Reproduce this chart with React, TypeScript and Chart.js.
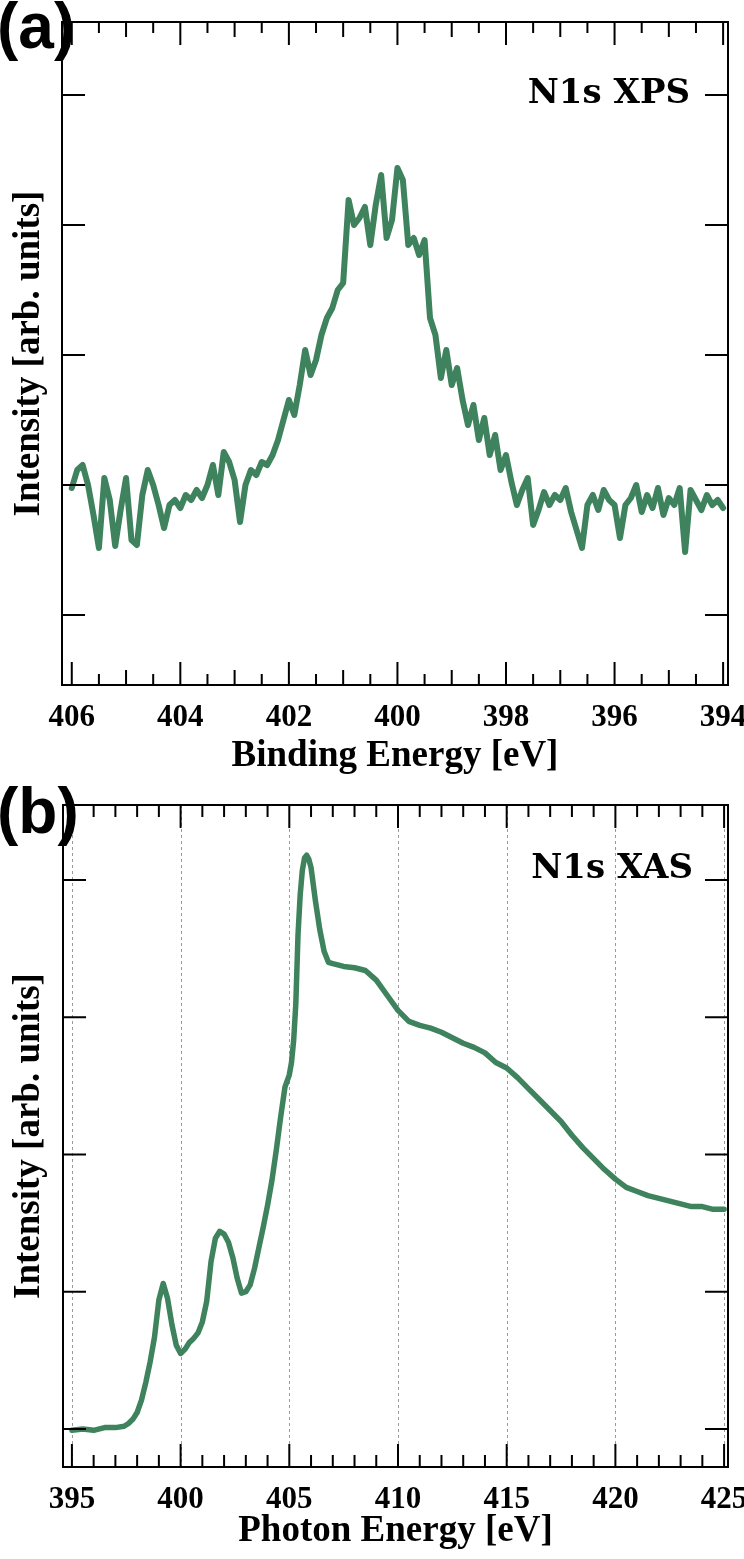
import React, { useEffect, useRef } from "react";
import { Chart, registerables } from "chart.js";

Chart.register(...registerables);

// ---------------- Panel (a): N1s XPS ----------------
const xpsEnergy = [
  406.0, 405.9, 405.8, 405.7, 405.6, 405.5, 405.4, 405.3, 405.2, 405.1,
  405.0, 404.9, 404.8, 404.7, 404.6, 404.5, 404.4, 404.3, 404.2, 404.1,
  404.0, 403.9, 403.8, 403.7, 403.6, 403.5, 403.4, 403.3, 403.2, 403.1,
  403.0, 402.9, 402.8, 402.7, 402.6, 402.5, 402.4, 402.3, 402.2, 402.1,
  402.0, 401.9, 401.8, 401.7, 401.6, 401.5, 401.4, 401.3, 401.2, 401.1,
  401.0, 400.9, 400.8, 400.7, 400.6, 400.5, 400.4, 400.3, 400.2, 400.1,
  400.0, 399.9, 399.8, 399.7, 399.6, 399.5, 399.4, 399.3, 399.2, 399.1,
  399.0, 398.9, 398.8, 398.7, 398.6, 398.5, 398.4, 398.3, 398.2, 398.1,
  398.0, 397.9, 397.8, 397.7, 397.6, 397.5, 397.4, 397.3, 397.2, 397.1,
  397.0, 396.9, 396.8, 396.7, 396.6, 396.5, 396.4, 396.3, 396.2, 396.1,
  396.0, 395.9, 395.8, 395.7, 395.6, 395.5, 395.4, 395.3, 395.2, 395.1,
  395.0, 394.9, 394.8, 394.7, 394.6, 394.5, 394.4, 394.3, 394.2, 394.1,
  394.0,
];
const xpsIntensity = [
  2570, 2750, 2800, 2600, 2300, 1970, 2670, 2450, 1990, 2350,
  2670, 2050, 2000, 2500, 2750, 2600, 2400, 2170, 2400, 2450,
  2370, 2500, 2450, 2550, 2470, 2600, 2800, 2500, 2930, 2830,
  2650, 2230, 2600, 2750, 2700, 2830, 2800, 2900, 3050, 3250,
  3450, 3300, 3600, 3950, 3700, 3850, 4100, 4270, 4370, 4550,
  4620, 5450, 5200, 5270, 5380, 5000, 5400, 5700, 5070, 5250,
  5770, 5650, 5000, 5070, 4900, 5050, 4270, 4100, 3670, 3950,
  3600, 3770, 3450, 3200, 3400, 3050, 3270, 2900, 3100, 2750,
  2900, 2630, 2400, 2550, 2670, 2200, 2350, 2530, 2400, 2500,
  2450, 2570, 2330, 2150, 1970, 2400, 2500, 2350, 2550, 2450,
  2400, 2070, 2400, 2470, 2600, 2330, 2500, 2370, 2570, 2300,
  2470, 2400, 2570, 1930, 2550, 2450, 2350, 2500, 2400, 2450,
  2370,
];
const xpsTickLabels = [406, 404, 402, 400, 398, 396, 394];
const xpsMidTicks = [405, 403, 401, 399, 397, 395];
const xpsMinorTicks = [405.5, 404.5, 403.5, 402.5, 401.5, 400.5, 399.5, 398.5, 397.5, 396.5, 395.5, 394.5];
const xpsYTicks = [1300, 2600, 3900, 5200, 6500];

// ---------------- Panel (b): N1s XAS ----------------
const xasEnergy = [
  395.0, 395.5, 396.0, 396.5, 397.0, 397.4, 397.6, 397.8, 398.0, 398.2,
  398.4, 398.6, 398.8, 399.0, 399.2, 399.4, 399.6, 399.8, 400.0, 400.2,
  400.4, 400.6, 400.8, 401.0, 401.2, 401.4, 401.6, 401.8, 402.0, 402.2,
  402.4, 402.6, 402.8, 403.0, 403.2, 403.4, 403.6, 403.8, 404.0, 404.2,
  404.4, 404.6, 404.8, 405.0, 405.1, 405.2, 405.3, 405.4, 405.5, 405.6,
  405.7, 405.8, 405.9, 406.0, 406.2, 406.4, 406.6, 406.8, 407.0, 407.5,
  408.0, 408.5, 409.0, 409.5, 410.0, 410.5, 411.0, 411.5, 412.0, 412.5,
  413.0, 413.5, 414.0, 414.5, 415.0, 415.5, 416.0, 416.5, 417.0, 417.5,
  418.0, 418.5, 419.0, 419.5, 420.0, 420.5, 421.0, 421.5, 422.0, 422.5,
  423.0, 423.5, 424.0, 424.5, 425.0,
];
const xasIntensity = [
  0.99, 1.0, 0.99, 1.01, 1.01, 1.02, 1.04, 1.07, 1.12, 1.21,
  1.34, 1.49, 1.67, 1.94, 2.06, 1.95, 1.76, 1.61, 1.55, 1.58,
  1.63, 1.66, 1.7, 1.78, 1.93, 2.22, 2.39, 2.44, 2.42, 2.36,
  2.25, 2.1, 1.99, 2.0, 2.05, 2.17, 2.32, 2.47, 2.63, 2.81,
  3.03, 3.27, 3.49, 3.58, 3.67, 3.83, 4.1, 4.6, 4.89, 5.07,
  5.16, 5.18, 5.15, 5.09, 4.85, 4.64, 4.48, 4.4, 4.39, 4.37,
  4.36, 4.34, 4.27, 4.16, 4.05, 3.97, 3.94, 3.92, 3.89, 3.85,
  3.81, 3.78, 3.74, 3.67, 3.63, 3.56, 3.48, 3.4, 3.32, 3.24,
  3.14, 3.05, 2.97, 2.89, 2.82, 2.76, 2.73, 2.7, 2.68, 2.66,
  2.64, 2.62, 2.62, 2.6, 2.6,
];
const xasTickLabels = [395, 400, 405, 410, 415, 420, 425];
const xasMinorTicks = [
  396, 397, 398, 399, 401, 402, 403, 404, 406, 407, 408, 409,
  411, 412, 413, 414, 416, 417, 418, 419, 421, 422, 423, 424,
];
const xasYTicks = [1, 2, 3, 4, 5];

const LINE_COLOR = "#3e835d";
const SERIF = '"Liberation Serif", "Times New Roman", serif';

type TickMark = { value: number; len: number };
type Decor = {
  xMarks: TickMark[];
  yMarks: number[];
  yLen: number;
  grid?: number[];
  letter: string;
  letterX: number;
  letterY: number;
  label: string;
  labelX: number;
  labelY: number;
};

function makeDecorPlugin(d: Decor) {
  return {
    id: "frameDecor",
    beforeDatasetsDraw(chart: any) {
      if (!d.grid) return;
      const { ctx, chartArea: a } = chart;
      const x = chart.scales.x;
      ctx.save();
      ctx.strokeStyle = "#9a9a9a";
      ctx.lineWidth = 1;
      ctx.setLineDash([3, 3]);
      for (const v of d.grid) {
        const px = Math.round(x.getPixelForValue(v)) + 0.5;
        ctx.beginPath();
        ctx.moveTo(px, a.top);
        ctx.lineTo(px, a.bottom);
        ctx.stroke();
      }
      ctx.restore();
    },
    afterDatasetsDraw(chart: any) {
      const { ctx, chartArea: a } = chart;
      const x = chart.scales.x;
      const y = chart.scales.y;
      ctx.save();
      ctx.strokeStyle = "#000";
      ctx.lineWidth = 2;
      ctx.setLineDash([]);
      ctx.strokeRect(a.left, a.top, a.right - a.left, a.bottom - a.top);
      ctx.beginPath();
      for (const m of d.xMarks) {
        const px = x.getPixelForValue(m.value);
        ctx.moveTo(px, a.bottom);
        ctx.lineTo(px, a.bottom - m.len);
        ctx.moveTo(px, a.top);
        ctx.lineTo(px, a.top + m.len);
      }
      for (const v of d.yMarks) {
        const py = y.getPixelForValue(v);
        ctx.moveTo(a.left, py);
        ctx.lineTo(a.left + d.yLen, py);
        ctx.moveTo(a.right, py);
        ctx.lineTo(a.right - d.yLen, py);
      }
      ctx.stroke();
      ctx.fillStyle = "#000";
      ctx.textBaseline = "alphabetic";
      ctx.textAlign = "left";
      ctx.font = 'bold 64px "Liberation Sans", Arial, sans-serif';
      ctx.fillText(d.letter, d.letterX, d.letterY);
      ctx.textAlign = "right";
      ctx.font = 'bold 34px "DejaVu Serif", serif';
      ctx.fillText(d.label, d.labelX, d.labelY);
      ctx.restore();
    },
  };
}

type PanelProps = {
  height: number;
  energy: number[];
  intensity: number[];
  xMin: number;
  xMax: number;
  reverse: boolean;
  xTicks: number[];
  yMin: number;
  yMax: number;
  padTop: number;
  yAxisWidth: number;
  xAxisHeight: number;
  tickPad: number;
  titlePad: number;
  xTitle: string;
  decor: Decor;
  lineWidth: number;
};

function Panel(p: PanelProps) {
  const ref = useRef<HTMLCanvasElement | null>(null);
  useEffect(() => {
    if (!ref.current) return;
    const chart = new Chart(ref.current, {
      type: "line",
      data: {
        datasets: [
          {
            data: p.energy.map((e, i) => ({ x: e, y: p.intensity[i] })),
            borderColor: LINE_COLOR,
            borderWidth: p.lineWidth,
            pointRadius: 0,
            fill: false,
            tension: 0,
            borderJoinStyle: "round",
            borderCapStyle: "round",
          } as any,
        ],
      },
      options: {
        animation: false,
        responsive: false,
        events: [],
        layout: { padding: { left: 0, right: 16, top: p.padTop, bottom: 0 } },
        plugins: { legend: { display: false }, tooltip: { enabled: false } },
        scales: {
          x: {
            type: "linear",
            min: p.xMin,
            max: p.xMax,
            reverse: p.reverse,
            grid: { display: false, drawTicks: false },
            border: { display: false },
            afterBuildTicks: (s: any) => {
              s.ticks = p.xTicks.map((v) => ({ value: v }));
            },
            afterFit: (s: any) => {
              s.height = p.xAxisHeight;
              s.paddingLeft = 0;
              s.paddingRight = 0;
            },
            ticks: {
              autoSkip: false,
              maxRotation: 0,
              padding: p.tickPad,
              color: "#000",
              font: { family: SERIF, size: 31, weight: "bold" },
              callback: (v: any) => String(v),
            },
            title: {
              display: true,
              text: p.xTitle,
              color: "#000",
              font: { family: SERIF, size: 37, weight: "bold", lineHeight: 1 },
              padding: { top: 0, bottom: p.titlePad },
            },
          },
          y: {
            type: "linear",
            min: p.yMin,
            max: p.yMax,
            grid: { display: false, drawTicks: false },
            border: { display: false },
            ticks: { display: false },
            afterFit: (s: any) => {
              s.width = p.yAxisWidth;
              s.paddingTop = 0;
              s.paddingBottom = 0;
            },
            title: {
              display: true,
              text: "Intensity [arb. units]",
              color: "#000",
              font: { family: SERIF, size: 37, weight: "bold", lineHeight: 1 },
              padding: { top: 11, bottom: 0 },
            },
          },
        },
      } as any,
      plugins: [makeDecorPlugin(p.decor)],
    });
    return () => chart.destroy();
  }, []);
  return (
    <canvas
      ref={ref}
      width={744}
      height={p.height}
      style={{ display: "block", width: 744, height: p.height }}
    />
  );
}

export default function App() {
  const xpsMarks: TickMark[] = [
    ...xpsTickLabels.map((v) => ({ value: v, len: 23 })),
    ...xpsMidTicks.map((v) => ({ value: v, len: 15 })),
    ...xpsMinorTicks.map((v) => ({ value: v, len: 11 })),
  ];
  const xasMarks: TickMark[] = [
    ...xasTickLabels.map((v) => ({ value: v, len: 23 })),
    ...xasMinorTicks.map((v) => ({ value: v, len: 12 })),
  ];
  return (
    <div style={{ position: "absolute", left: 0, top: 0, width: 744, height: 1559, background: "#fff" }}>
      <Panel
        height={780}
        energy={xpsEnergy}
        intensity={xpsIntensity}
        xMin={393.91}
        xMax={406.18}
        reverse={true}
        xTicks={xpsTickLabels}
        yMin={600}
        yMax={7230}
        padTop={22}
        yAxisWidth={62}
        xAxisHeight={95}
        tickPad={14}
        titlePad={5}
        xTitle="Binding Energy [eV]"
        lineWidth={6}
        decor={{
          xMarks: xpsMarks,
          yMarks: xpsYTicks,
          yLen: 23,
          letter: "(a)",
          letterX: -3,
          letterY: 48,
          label: "N1s XPS",
          labelX: 690,
          labelY: 103,
        }}
      />
      <Panel
        height={779}
        energy={xasEnergy}
        intensity={xasIntensity}
        xMin={394.59}
        xMax={425.18}
        reverse={false}
        xTicks={xasTickLabels}
        yMin={0.723}
        yMax={5.546}
        padTop={25}
        yAxisWidth={63}
        xAxisHeight={92}
        tickPad={14}
        titlePad={9}
        xTitle="Photon Energy [eV]"
        lineWidth={5.5}
        decor={{
          xMarks: xasMarks,
          yMarks: xasYTicks,
          yLen: 23,
          grid: xasTickLabels,
          letter: "(b)",
          letterX: -3,
          letterY: 53,
          label: "N1s XAS",
          labelX: 693,
          labelY: 98,
        }}
      />
    </div>
  );
}
